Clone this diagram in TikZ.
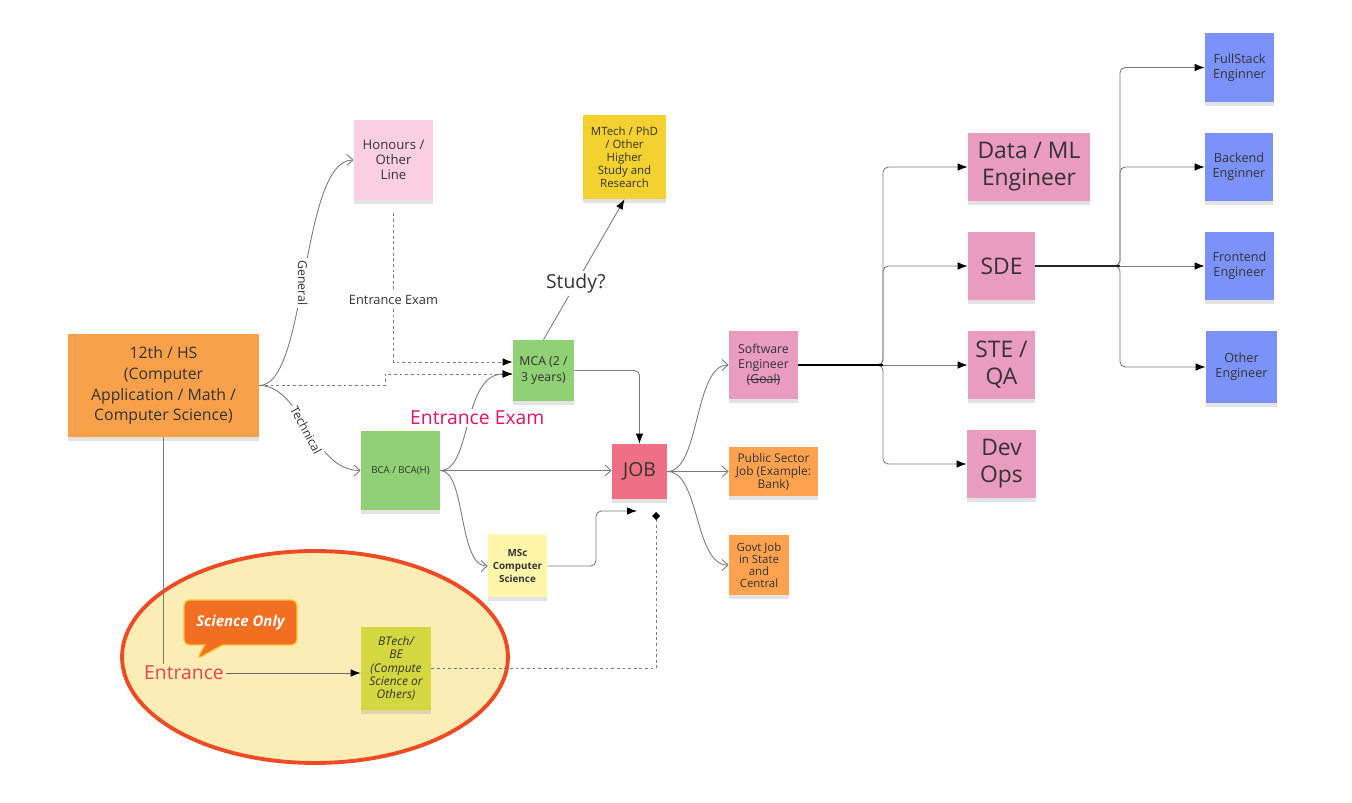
\documentclass[tikz,border=0pt]{standalone}
\usepackage{fontspec}
\setmainfont{Open Sans}
\usetikzlibrary{arrows.meta,calc,shadows,shapes.callouts}
\definecolor{ink}{HTML}{333333}
\definecolor{linegray}{HTML}{7A7A7A}
\definecolor{hsorange}{HTML}{F9A04B}
\definecolor{jobsorange}{HTML}{FDA24E}
\definecolor{softpink}{HTML}{FDD0E1}
\definecolor{notepink}{HTML}{EA9BC0}
\definecolor{goldnote}{HTML}{F3D12E}
\definecolor{greennote}{HTML}{8FD174}
\definecolor{paleyellow}{HTML}{FFF6AA}
\definecolor{limenote}{HTML}{D4D840}
\definecolor{jobred}{HTML}{EF6F84}
\definecolor{bluenote}{HTML}{7B92FB}
\definecolor{ellfill}{HTML}{FBEDB5}
\definecolor{ellred}{HTML}{EE4A24}
\definecolor{sciorange}{HTML}{F26E21}
\definecolor{sciedge}{HTML}{F9C73A}
\definecolor{magentalbl}{HTML}{E0146B}
\definecolor{entred}{HTML}{E8444F}
\newcommand{\fsz}[2]{\fontsize{#1}{#2}\selectfont}
\newcommand{\strk}[1]{\setbox0\hbox{#1}\rlap{\raisebox{0.3em}{\rule{\wd0}{0.45pt}}}\box0}
\tikzset{
  sticky/.style={fill=#1,text=ink,align=center,inner sep=1pt,
    drop shadow={shadow xshift=0pt,shadow yshift=-2.5pt,opacity=0.22}},
  openarr/.style={-{Straight Barb[length=1.2mm,width=2.2mm]},line width=0.5pt,color=linegray},
  solidarr/.style={-{Latex[length=2mm,width=1.5mm,color=black]},line width=0.5pt,color=linegray},
  dasharr/.style={solidarr,dash pattern=on 1.6pt off 1.6pt},
  plainline/.style={line width=0.5pt,color=linegray},
  lbl/.style={fill=white,text=ink,inner sep=1.5pt}
}
\begin{document}
\begin{tikzpicture}[x=0.02cm,y=-0.02cm]
  \useasboundingbox (0,0) rectangle (1352,803);

  % science only area
  \draw[line width=2.2pt,draw=ellred,fill=ellfill] (315,657) ellipse [x radius=3.86cm,y radius=2.12cm];

  % notes
  \node[sticky=hsorange,minimum width=3.82cm,minimum height=2.06cm,font=\fsz{9}{11.9}] (hs) at (163.5,385.5)
    {12th / HS\\(Computer\\Application / Math /\\Computer Science)};
  \node[sticky=softpink,minimum width=1.58cm,minimum height=1.6cm,font=\fsz{7.5}{8.6}] (honours) at (393.5,160)
    {Honours /\\Other\\Line};
  \node[sticky=goldnote,minimum width=1.66cm,minimum height=1.68cm,font=\fsz{6.5}{7.4}] (mtech) at (624.5,157)
    {MTech / PhD\\/ Other\\Higher\\Study and\\Research};
  \node[sticky=greennote,minimum width=1.22cm,minimum height=1.22cm,font=\fsz{7}{9.6}] (mca) at (543.5,370.5)
    {MCA (2 /\\3 years)};
  \node[sticky=greennote,minimum width=1.58cm,minimum height=1.58cm,font=\fsz{5.5}{7}] (bca) at (400.5,470.5)
    {BCA / BCA(H)};
  \node[sticky=paleyellow,minimum width=1.18cm,minimum height=1.24cm,font=\bfseries\fsz{5.6}{7.4}] (msc) at (517.5,566)
    {MSc\\Computer\\Science};
  \node[sticky=limenote,minimum width=1.4cm,minimum height=1.66cm,font=\itshape\fsz{6.8}{7.5}] (btech) at (396,668.5)
    {BTech/\\BE\\(Compute\\Science or\\Others)};
  \node[sticky=jobred,minimum width=1.1cm,minimum height=1.1cm,font=\fsz{11}{13}] (job) at (639.5,471.5)
    {JOB};
  \node[sticky=notepink,minimum width=1.38cm,minimum height=1.36cm,font=\fsz{7}{8.5}] (swe) at (763.5,365)
    {Software\\Engineer\\\strk{(Goal)}};
  \node[sticky=jobsorange,minimum width=1.78cm,minimum height=0.98cm,font=\fsz{6.8}{7.4}] (pub) at (773.5,471.5)
    {Public Sector\\Job (Example:\\Bank)};
  \node[sticky=jobsorange,minimum width=1.2cm,minimum height=1.2cm,font=\fsz{6.5}{6.9}] (govt) at (759,565)
    {Govt Job\\in State\\and\\Central};
  \node[sticky=notepink,minimum width=2.44cm,minimum height=1.36cm,font=\fsz{13}{15.3}] (dataml) at (1029,167)
    {Data / ML\\Engineer};
  \node[sticky=notepink,minimum width=1.34cm,minimum height=1.36cm,font=\fsz{13}{15.3}] (sde) at (1001.5,266)
    {SDE};
  \node[sticky=notepink,minimum width=1.34cm,minimum height=1.36cm,font=\fsz{13}{15.3}] (ste) at (1001.5,365)
    {STE /\\QA};
  \node[sticky=notepink,minimum width=1.38cm,minimum height=1.36cm,font=\fsz{13}{15.3}] (devops) at (1001.5,464)
    {Dev\\Ops};
  \node[sticky=bluenote,minimum width=1.38cm,minimum height=1.38cm,font=\fsz{7.2}{8.5}] (fullstack) at (1239.5,67.5)
    {FullStack\\Enginner};
  \node[sticky=bluenote,minimum width=1.36cm,minimum height=1.36cm,font=\fsz{7.2}{8.5}] (backend) at (1239,167)
    {Backend\\Enginner};
  \node[sticky=bluenote,minimum width=1.38cm,minimum height=1.36cm,font=\fsz{7.2}{8.5}] (frontend) at (1239.5,266)
    {Frontend\\Engineer};
  \node[sticky=bluenote,minimum width=1.42cm,minimum height=1.44cm,font=\fsz{7.2}{8.5}] (other) at (1241.5,367)
    {Other\\Engineer};

  \node[rectangle callout,callout absolute pointer={(197,659)},callout pointer width=0.36cm,
    rounded corners=3pt,fill=sciorange,draw=sciedge,line width=0.8pt,text=white,
    font=\bfseries\itshape\fsz{8.5}{10},minimum width=2.26cm,minimum height=0.9cm] (sci) at (240.5,622.5) {Science Only};
  \node[text=entred,font=\fsz{11}{13},inner sep=1pt] (entr) at (184,673) {Entrance};
  \coordinate (jobin) at (637,511);
  \coordinate (jobdot) at (656,512);
  \coordinate (swebus) at (883,365);
  \coordinate (sdebus) at (1120,266);

  % from 12th
  \draw[openarr] (hs.east) .. controls (308,385.5) and (300,160) .. (honours.west)
    node[pos=0.47,lbl,rotate=-90,font=\fsz{7}{8}] {General};
  \draw[openarr] (hs.east) .. controls (302,385.5) and (312,470.5) .. (bca.west)
    node[pos=0.45,lbl,rotate=-62,xshift=5pt,yshift=-1pt,inner sep=0.8pt,font=\fsz{7}{8}] {Technical};
  \draw[dasharr] (hs.east) -- (385,385.5) |- ($(mca.west)+(0,3.5)$);
  \draw[dasharr] ($(honours.south)+(0,13)$) |- ($(mca.west)+(0,-8.5)$)
    node[pos=0.29,lbl,font=\fsz{7.3}{8}] {Entrance Exam};
  \draw[plainline] (hs.south) -- (hs.south |- entr.north);
  \draw[solidarr,color=black!60] (entr.east) -- (entr.east -| btech.west);

  % degrees
  \draw[solidarr] (bca.east) .. controls (472,470.5) and (462,374) .. ($(mca.west)+(0,3.5)$)
    node[pos=0.5,lbl,xshift=4.5pt,yshift=2.5pt,inner sep=1pt,text=magentalbl,font=\fsz{11}{13}] {Entrance Exam};
  \draw[openarr] (bca.east) -- (bca.east -| job.west);
  \draw[openarr] (bca.east) .. controls (466,470.5) and (458,566) .. (msc.west);
  \draw[solidarr,rounded corners=3pt] (msc.east) -- (596,566) |- (jobin);
  \draw[plainline,dash pattern=on 1.6pt off 1.6pt,-{Turned Square[length=1.6mm,width=1.6mm,color=black]}]
    (btech.east) -| (jobdot);
  \draw[solidarr,rounded corners=3pt] (mca.east) -| (job.north);
  \draw[solidarr] (mca.north) -- (mtech.south)
    node[pos=0.4,lbl,font=\fsz{11}{13}] {Study?};

  % jobs
  \draw[openarr] (job.east) .. controls (700,471.5) and (694,365) .. (swe.west);
  \draw[openarr] (job.east) -- (pub.west);
  \draw[openarr] (job.east) .. controls (700,471.5) and (694,565) .. (govt.west);

  % software engineer roles
  \draw[solidarr,rounded corners=3pt] (swe.east) -- (swebus) |- (dataml.west);
  \draw[solidarr,rounded corners=3pt] (swe.east) -- (swebus) |- (sde.west);
  \draw[solidarr] (swe.east) -- (ste.west);
  \draw[solidarr,rounded corners=3pt] (swe.east) -- (swebus) |- (devops.west);
  \draw[line width=1pt,color=black] (swe.east) -- (swebus);

  % sde roles
  \draw[solidarr,rounded corners=3pt] (sde.east) -- (sdebus) |- (fullstack.west);
  \draw[solidarr,rounded corners=3pt] (sde.east) -- (sdebus) |- (backend.west);
  \draw[solidarr] (sde.east) -- (frontend.west);
  \draw[solidarr,rounded corners=3pt] (sde.east) -- (sdebus) |- (other.west);
  \draw[line width=1pt,color=black!85] (sde.east) -- (sdebus);
\end{tikzpicture}
\end{document}
